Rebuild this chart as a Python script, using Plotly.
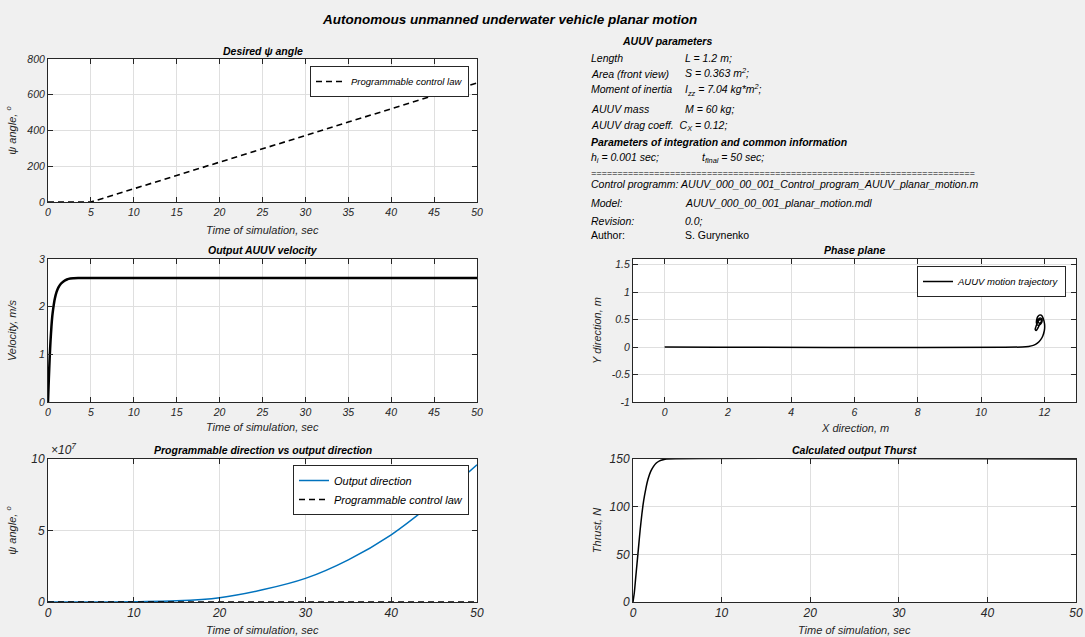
import plotly.graph_objects as go

# ---------------- data ----------------
t_desired = [0, 5, 10, 15, 20, 25, 30, 35, 40, 45, 50]
psi_desired = [0, 0, 74, 148, 220, 296, 372, 447, 522, 596, 666]

t_velocity = [0, 0.1, 0.2, 0.3, 0.4, 0.5, 0.6, 0.8, 1.0, 1.2, 1.5, 1.8, 2.2, 2.6, 3.0, 3.5, 4.0, 5.0, 50]
velocity = [0, 0.5, 0.95, 1.3, 1.58, 1.8, 1.95, 2.17, 2.31, 2.4, 2.48, 2.53, 2.57, 2.59, 2.595, 2.6, 2.6, 2.6, 2.6]

t_output = [0, 5, 10, 15, 20, 25, 30, 35, 40, 45, 50]
output_dir_1e7 = [0, 0.0, 0.02, 0.08, 0.3, 0.85, 1.65, 2.95, 4.7, 7.0, 9.6]

t_thrust = [0, 0.15, 0.3, 0.45, 0.6, 0.8, 1.0, 1.2, 1.45, 1.7, 2.0, 2.3, 2.6, 3.0, 3.4, 3.8, 50]
thrust = [0, 10, 25, 40, 55, 75, 92, 106, 119, 129, 137, 142, 145.5, 148, 149.3, 150, 150]

x_traj = [0, 11.3, 11.5, 11.65, 11.78, 11.88, 11.95, 12.0, 12.01, 11.99, 11.95, 11.9, 11.84, 11.79,
          11.76, 11.75, 11.78, 11.84, 11.9, 11.93, 11.9, 11.84, 11.8, 11.82, 11.88, 11.92, 11.88,
          11.82, 11.74, 11.71, 11.74, 11.8, 11.86, 11.9]
y_traj = [0, 0, 0.01, 0.03, 0.07, 0.13, 0.2, 0.3, 0.38, 0.47, 0.54, 0.58, 0.58, 0.55,
          0.5, 0.44, 0.4, 0.4, 0.43, 0.48, 0.52, 0.52, 0.48, 0.44, 0.43, 0.46, 0.5,
          0.48, 0.38, 0.32, 0.3, 0.35, 0.42, 0.46]

phase_yticks = [-1, -0.5, 0, 0.5, 1, 1.5]
phase_yticktext = ["-1", "-0.5", "0", "0.5", "1", "1.5"]

# ---------------- layout helpers ----------------
W, H = 1085, 637
FONT = "Liberation Sans, Arial, Helvetica, sans-serif"
DARK = "#262626"
GRID = "#dfdfdf"


def px(x):
    return x / W


def py(y):
    return 1 - y / H


def axis_style(domain, rng, tickfont_size, dtick=None, title=None, anchor=None, **kw):
    d = dict(
        domain=domain, range=rng, showline=True, linecolor=DARK, linewidth=1,
        mirror="ticks", ticks="inside", ticklen=5, tickcolor=DARK, tickwidth=1,
        showgrid=True, gridcolor=GRID, gridwidth=1, zeroline=False,
        tickfont=dict(size=tickfont_size, color=DARK, family=FONT, style="italic"),
        automargin=False, fixedrange=True, anchor=anchor,
    )
    if title:
        d["title"] = dict(text=title, font=dict(size=11, color=DARK, family=FONT, style="italic"))
    if dtick is not None:
        d["dtick"] = dtick
        d["tick0"] = 0
    d.update(kw)
    return d


XL = [px(48), px(477)]
XR = [px(633), px(1076)]
Y1 = [py(202), py(59)]
Y2 = [py(402), py(259)]
Y3 = [py(602), py(459)]

fig = go.Figure()

# Desired psi
fig.add_trace(go.Scatter(x=t_desired, y=psi_desired, mode="lines", xaxis="x", yaxis="y",
                         line=dict(color="black", width=1.6, dash="6px,4px"),
                         name="Programmable control law", legend="legend"))
# Velocity
fig.add_trace(go.Scatter(x=t_velocity, y=velocity, mode="lines", xaxis="x2", yaxis="y2",
                         line=dict(color="black", width=2.5, shape="spline", smoothing=0.6),
                         showlegend=False))
# Output direction
fig.add_trace(go.Scatter(x=t_output, y=output_dir_1e7, mode="lines", xaxis="x3", yaxis="y3",
                         line=dict(color="#0072BD", width=1.5, shape="spline", smoothing=0.8),
                         name="Output direction", legend="legend3"))
fig.add_trace(go.Scatter(x=t_desired, y=[v / 1e7 for v in psi_desired], mode="lines",
                         xaxis="x3", yaxis="y3",
                         line=dict(color="black", width=1.6, dash="6px,4px"),
                         name="Programmable control law", legend="legend3"))
# Phase plane
fig.add_trace(go.Scatter(x=x_traj, y=y_traj, mode="lines", xaxis="x4", yaxis="y4",
                         line=dict(color="black", width=1.5, shape="spline", smoothing=0.8),
                         name="AUUV motion trajectory", legend="legend2"))
# Thrust
fig.add_trace(go.Scatter(x=t_thrust, y=thrust, mode="lines", xaxis="x5", yaxis="y5",
                         line=dict(color="black", width=1.5, shape="spline", smoothing=0.6),
                         showlegend=False))

psi_title = "ψ angle, <sup>o</sup>"
time_title = "Time of simulation, sec"

legend_common = dict(bgcolor="white", bordercolor=DARK, borderwidth=1,
                     xanchor="right", yanchor="top", itemwidth=30,
                     tracegroupgap=0)

fig.update_layout(
    width=W, height=H, template="none",
    margin=dict(l=0, r=0, t=0, b=0),
    paper_bgcolor="#f0f0f0", plot_bgcolor="white",
    font=dict(family=FONT, color=DARK, size=11, style="italic"),
    xaxis=axis_style(XL, [0, 50], 10.5, 5, anchor="y"),
    yaxis=axis_style(Y1, [0, 800], 10.5, 200, psi_title, anchor="x"),
    xaxis2=axis_style(XL, [0, 50], 10.5, 5, anchor="y2"),
    yaxis2=axis_style(Y2, [0, 3], 10.5, 1, "Velocity, m/s", anchor="x2"),
    xaxis3=axis_style(XL, [0, 50], 12, 10, anchor="y3"),
    yaxis3=axis_style(Y3, [0, 10], 12, 5, psi_title, anchor="x3"),
    xaxis4=axis_style(XR, [-1, 13], 10.5, 2, anchor="y4"),
    yaxis4=axis_style(Y2, [-1, 1.6], 10.5, None, "Y direction, m", anchor="x4",
                      tickmode="array", tickvals=phase_yticks, ticktext=phase_yticktext),
    xaxis5=axis_style(XR, [0, 50], 12, 10, anchor="y5"),
    yaxis5=axis_style(Y3, [0, 150], 12, 50, "Thrust, N", anchor="x5"),
    legend=dict(x=px(469), y=py(66), font=dict(size=9.5, family=FONT, color="black", style="italic"),
                **legend_common),
    legend2=dict(x=px(1066), y=py(266), font=dict(size=9.5, family=FONT, color="black", style="italic"),
                 **legend_common),
    legend3=dict(x=px(469), y=py(465), font=dict(size=11, family=FONT, color="black", style="italic"),
                 **legend_common),
    showlegend=True,
)

annotations = []


def add_text(text, x, y, size=10.5, xanchor="left", color="black", italic=True):
    annotations.append(dict(
        text=text, x=px(x), y=py(y), xref="paper", yref="paper",
        xanchor=xanchor, yanchor="middle", showarrow=False,
        font=dict(size=size, family=FONT, color=color, style="italic" if italic else "normal"),
    ))


# Main title and subplot titles
add_text("<b>Autonomous unmanned underwater vehicle planar motion</b>", 509, 20, size=13.5, xanchor="center")
add_text("<b>Desired ψ angle</b>", 262.5, 51, size=10.5, xanchor="center")
add_text("<b>Output AUUV velocity</b>", 262.5, 250, size=10.5, xanchor="center")
add_text("<b>Programmable direction vs output direction</b>", 262.5, 450, size=10.5, xanchor="center")
add_text("<b>Phase plane</b>", 854.5, 250, size=10.5, xanchor="center")
add_text("<b>Calculated output Thurst</b>", 854.5, 450, size=10.5, xanchor="center")
add_text("×10<sup>7</sup>", 49, 449, size=12, color=DARK)

# x-axis titles
add_text(time_title, 262.5, 230, size=11, xanchor="center", color=DARK)
add_text(time_title, 262.5, 427, size=11, xanchor="center", color=DARK)
add_text(time_title, 262.5, 630, size=11, xanchor="center", color=DARK)
add_text("X direction, m", 854.5, 428, size=11, xanchor="center", color=DARK)
add_text(time_title, 854.5, 630, size=11, xanchor="center", color=DARK)

# Parameter panel
C1, C2 = 589, 683
add_text("<b>AUUV parameters</b>", 620, 41)
add_text("Length", C1, 58)
add_text("L = 1.2 m;", C2, 58)
add_text("Area (front view)", C1, 74)
add_text("S = 0.363 m<sup>2</sup>;", C2, 73)
add_text("Moment of inertia", C1, 89)
add_text("I<sub>zz</sub> = 7.04 kg*m<sup>2</sup>;", C2, 90)
add_text("AUUV mass", C1, 109)
add_text("M = 60 kg;", C2, 109)
add_text("AUUV drag coeff.  C<sub>X</sub> = 0.12;", C1, 126)
add_text("<b>Parameters of integration and common information</b>", C1, 142)
add_text("h<sub>i</sub> = 0.001 sec;", C1, 158)
add_text("t<sub>final</sub> = 50 sec;", 700, 158)
add_text("=" * 73, C1, 173, size=9)
add_text("Control programm: AUUV_000_00_001_Control_program_AUUV_planar_motion.m", C1, 184)
add_text("Model:", C1, 203)
add_text("AUUV_000_00_001_planar_motion.mdl", C2, 203)
add_text("Revision:", C1, 221)
add_text("0.0;", C2, 221)
add_text("Author:", C1, 235, italic=False)
add_text("S. Gurynenko", C2, 235, italic=False)

fig.update_layout(annotations=annotations)

fig.write_html("out.html")
